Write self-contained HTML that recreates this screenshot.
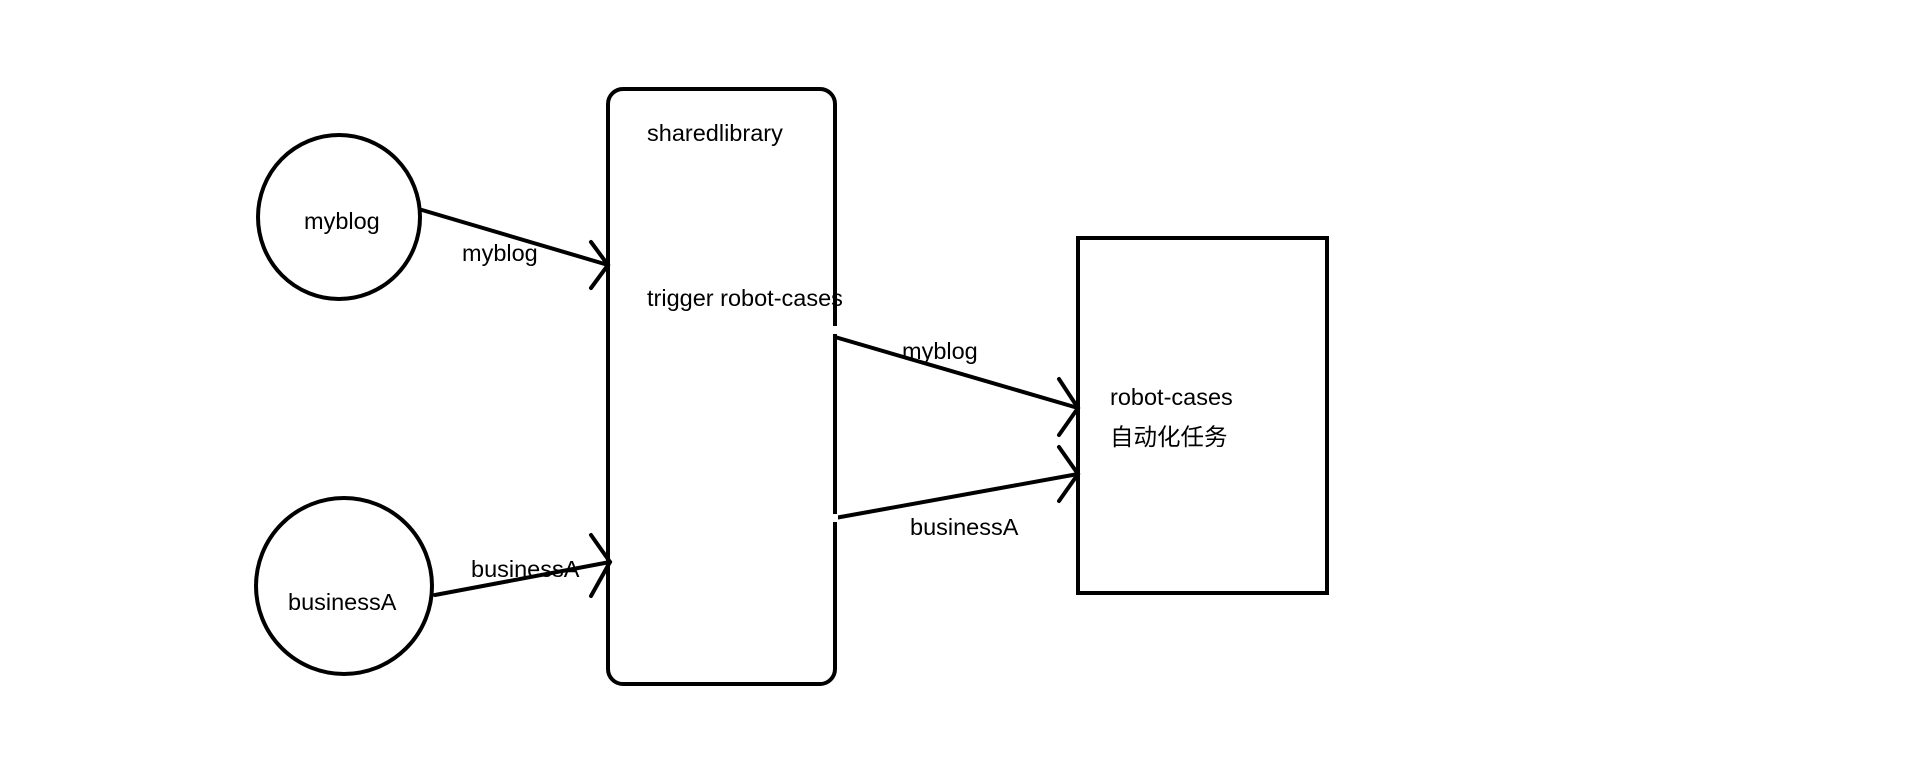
<!DOCTYPE html>
<html><head><meta charset="utf-8"><style>
html,body{margin:0;padding:0;background:#fff;}
text{font-family:"Liberation Sans","Noto Sans CJK SC",sans-serif;font-size:23.5px;fill:#000;}
</style></head><body>
<svg width="1914" height="774" viewBox="0 0 1914 774" xmlns="http://www.w3.org/2000/svg">
<g fill="none" stroke="#000" stroke-width="4" stroke-linecap="round">
<ellipse cx="339" cy="217" rx="81" ry="82"/>
<ellipse cx="344" cy="586" rx="88" ry="88"/>
<rect x="608" y="89" width="227" height="595" rx="15" ry="15"/>
<rect x="1078" y="238" width="249" height="355"/>
<line x1="422" y1="210" x2="608" y2="265"/>
<polyline points="591,242 608,265 591,288"/>
<line x1="435" y1="595" x2="610" y2="562"/>
<polyline points="591,535 610,562 591,596"/>
<line x1="835" y1="337" x2="1078" y2="408"/>
<polyline points="1059,379 1078,408 1059,435"/>
<line x1="835" y1="518" x2="1078" y2="474"/>
<polyline points="1059,447 1078,474 1059,501"/>
</g>
<rect x="832" y="326" width="6" height="8" fill="#fff"/>
<rect x="832" y="514" width="6" height="8" fill="#fff"/>
<text x="647" y="141">sharedlibrary</text>
<text x="647" y="306">trigger robot-cases</text>
<text x="304" y="229">myblog</text>
<text x="462" y="261">myblog</text>
<text x="288" y="610">businessA</text>
<text x="471" y="577">businessA</text>
<text x="902" y="359">myblog</text>
<text x="910" y="535">businessA</text>
<text x="1110" y="405">robot-cases</text>
<text x="1110" y="445">自动化任务</text>
</svg>
</body></html>
